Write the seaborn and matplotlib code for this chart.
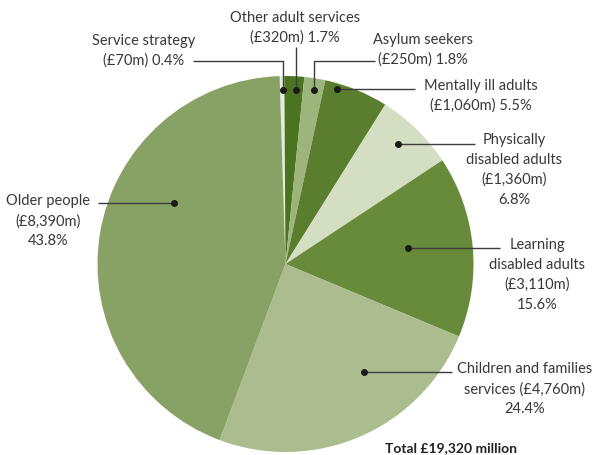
import matplotlib
matplotlib.use("Agg")
import matplotlib.pyplot as plt
import seaborn as sns

sns.set_theme(style="white")
plt.rcParams["font.family"] = ["Lato", "DejaVu Sans"]

# Spending by service area
categories = ["Service strategy", "Other adult services", "Asylum seekers",
              "Mentally ill adults", "Physically disabled adults",
              "Learning disabled adults", "Children and families services",
              "Older people"]
spend_m = [70, 320, 250, 1060, 1360, 3110, 4760, 8390]
share_pct = [0.4, 1.7, 1.8, 5.5, 6.8, 15.6, 24.4, 43.8]
label_texts = [
    "Service strategy\n(£70m) 0.4%",
    "Other adult services\n(£320m) 1.7%",
    "Asylum seekers\n(£250m) 1.8%",
    "Mentally ill adults\n(£1,060m) 5.5%",
    "Physically\ndisabled adults\n(£1,360m)\n6.8%",
    "Learning\ndisabled adults\n(£3,110m)\n15.6%",
    "Children and families\nservices (£4,760m)\n24.4%",
    "Older people\n(£8,390m)\n43.8%",
]
total_text = "Total £19,320 million"

colors = ["#e6ebde", "#4b7421", "#9db47c", "#5a7e2d",
          "#d3dec2", "#688b3b", "#abbd8f", "#88a165"]

W, H = 593, 456
fig = plt.figure(figsize=(W / 100, H / 100), dpi=100)
ax = fig.add_axes([0, 0, 1, 1])

def py(y):
    return H - y

cx, cy, r = 285.5, py(265), 188
ax.pie(share_pct, colors=colors, startangle=91.8, counterclock=False,
       center=(cx, cy), radius=r, wedgeprops=dict(linewidth=0))
ax.set_xlim(0, W)
ax.set_ylim(0, H)
ax.set_aspect("equal")
ax.axis("off")

line_kw = dict(color="#3c3c3c", lw=1.0, solid_capstyle="butt", zorder=3)
dot_kw = dict(marker="o", ms=4, color="#1a1a1a", zorder=4, ls="none")
txt_kw = dict(fontsize=10.5, color="#383838", ha="center", va="center",
              multialignment="center", linespacing=1.5)

# leader lines: pixel polylines, dot at the last point
leaders = [
    [(193, 62), (283, 62), (283, 91)],
    [(296, 48), (296, 91)],
    [(375, 62), (314, 62), (314, 91)],
    [(415, 90), (337, 90)],
    [(475, 145), (398, 145)],
    [(500, 249), (408, 249)],
    [(452, 373), (364, 373)],
    [(98, 204), (174, 204)],
]
for pts in leaders:
    xs = [p[0] for p in pts]
    ys = [py(p[1]) for p in pts]
    ax.plot(xs, ys, **line_kw)
    ax.plot(xs[-1], ys[-1], **dot_kw)

# label block centres in pixels
anchors = [
    (144, 51),
    (295, 28),
    (423, 50),
    (481, 96),
    (514, 170),
    (537, 275),
    (525, 389),
    (48, 221),
]
for txt, (x, y) in zip(label_texts, anchors):
    ax.text(x, py(y), txt, **txt_kw)

ax.text(385, py(448), total_text, fontsize=10, fontweight="bold",
        color="#222222", ha="left", va="center")

fig.savefig("out.png", dpi=100)
